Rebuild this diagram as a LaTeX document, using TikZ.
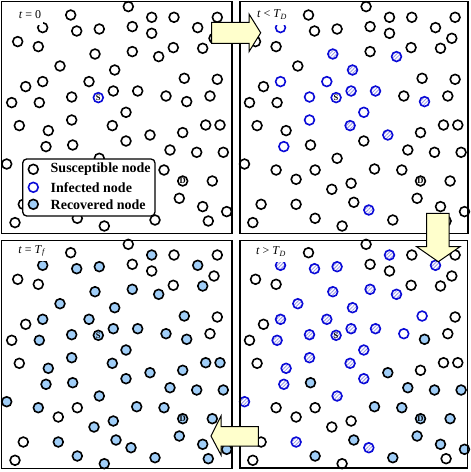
\documentclass[tikz,border=0pt]{standalone}
\usepackage{fontspec}
\setmainfont{Liberation Serif}
\usetikzlibrary{patterns.meta}
\definecolor{infblue}{RGB}{10,10,215}
\definecolor{recfill}{RGB}{160,206,248}
\definecolor{hatchc}{RGB}{150,150,232}
\definecolor{arrowfill}{RGB}{255,255,204}
\tikzset{
  nbase/.style={circle, inner sep=0pt, minimum size=9.8pt, line width=1.6pt,
    font=\bfseries\fontsize{8.5}{8.5}\selectfont},
  nsus/.style={nbase, draw=black, fill=white},
  ninf/.style={nbase, draw=infblue, fill=white},
  nhat/.style={nbase, draw=infblue, preaction={fill=white},
    pattern={Lines[angle=45, distance=2.5pt, line width=0.8pt]}, pattern color=hatchc},
  nrec/.style={nbase, draw=black, fill=recfill},
  frame/.style={draw=black, line width=1.4pt},
  lab/.style={fill=white, inner xsep=2pt, inner ysep=0pt, minimum height=20pt,
    font=\fontsize{12}{14}\selectfont},
  legtext/.style={anchor=west, inner sep=0pt, font=\bfseries\fontsize{14}{16}\selectfont},
  bigarrow/.style={draw=black, fill=arrowfill, line width=1pt, line join=miter}
}
\def\nodelist{126.8/4.8, 69.2/13.2, 150.2/15.5, 172.5/15.5, 215.8/15.5, 41.2/25.8, 75.2/29.2, 97.8/27.2, 130.8/24.8, 196.2/25.8, 150.2/31.5, 212.5/36.5, 16.2/39.8, 36.8/44.8, 171.8/45.8, 201.2/46.5, 93.5/52.2, 130.8/49.8, 157.2/54.8, 58.5/64.2, 113.2/68.2, 182.8/76.5, 215.8/77.5, 41.2/79.8, 87.5/79.8, 24.2/84.8, 111.8/89.2, 136.2/89.2, 96.8/95.8, 70.2/95.2, 10.2/100.8, 37.8/100.8, 164.5/94.2, 185.2/99.8, 208.5/94.2, 124.5/110.5, 70.2/118.2, 17.8/123.8, 46.8/128.8, 110.8/123.8, 204.2/123.2, 218.5/123.2, 181.2/130.8, 148.5/133.2, 124.5/139.2, 44.5/144.8, 71.2/143.2, 168.5/148.2, 195.2/150.5, 221.8/150.5, 97.8/156.5, 5.2/162.2, 36.8/168.2, 75.8/168.2, 135.2/167.2, 162.5/168.2, 56.8/177.5, 181.2/179.2, 210.8/179.2, 111.8/181.5, 92.5/187.5, 177.8/196.5, 21.8/202.5, 56.8/202.5, 114.5/200.5, 129.5/208.2, 201.2/204.8, 75.8/216.5, 13.5/220.8, 153.5/218.2, 206.8/219.2, 102.8/224.2, 225.2/209.8}
\def\assignstate#1#2#3{\foreach \k in {#3}{\expandafter\xdef\csname st#1-\k\endcsname{#2}}}
\assignstate{1}{ninf}{29}
\assignstate{2}{ninf}{6,24,25,29,30,36,37,46}
\assignstate{2}{nhat}{17,19,21,27,28,34,40,44,66}
\assignstate{4}{nhat}{3,6,7,8,10,17,18,19,20,21,24,25,27,28,29,30,32,36,37,39,40,45,46,51,52,64,66}
\assignstate{4}{ninf}{22,33}
\assignstate{4}{nrec}{34,44,47,48,49,50,55,56,58,59,62,65,67,68,70,73}
\assignstate{3}{nrec}{3,6,7,8,10,16,17,18,19,20,21,22,24,25,27,28,29,30,32,33,34,36,37,39,40,41,42,43,44,45,46,47,48,49,50,51,52,53,55,56,58,59,60,61,62,64,65,66,67,68,70,71,72,73}
\def\drawpanel#1#2#3{%
  \begin{scope}[shift={(#2,#3)}]
  \foreach \x/\y [count=\i] in \nodelist {%
    \ifcsname st#1-\i\endcsname \edef\thest{\csname st#1-\i\endcsname}\else\def\thest{nsus}\fi
    \node[\thest] (p#1n\i) at (\x,\y) {\ifnum\i=29 S\else\ifnum\i=58 D\fi\fi};
  }
  \end{scope}}
\begin{document}
\begin{tikzpicture}[x=1pt,y=-1pt]
\useasboundingbox (0,0) rectangle (471,472);
\fill[white] (0,0) rectangle (471,472);
% panels
\drawpanel{1}{1.5}{1.8}
\drawpanel{2}{239.3}{1.8}
\drawpanel{3}{1.5}{239.5}
\drawpanel{4}{239.3}{239.5}
\draw[frame] (1.5,1.7) rectangle (232,233.3);
\draw[frame] (240,1.7) rectangle (468,233.3);
\draw[frame] (1.3,240.7) rectangle (232,468.5);
\draw[frame] (240,240.7) rectangle (467.7,468);
% time labels
\node[lab] (lab1) at (30,14.5) {\textit{t} = 0};
\node[lab] (lab2) at (272,14.5) {\textit{t} < \textit{T}\textsubscript{\textit{D}}};
\node[lab] (lab3) at (32,251) {\textit{t} = \textit{T}\textsubscript{\textit{f}}};
\node[lab] (lab4) at (271,251.5) {\textit{t} > \textit{T}\textsubscript{\textit{D}}};
% legend
\node[draw=black, fill=white, rounded corners=4pt, line width=1.3pt, inner sep=0pt,
  minimum width=132.3pt, minimum height=57pt] (legend) at (88.85,187.5) {};
\node[nsus] (leg1c) at (33.3,169.3) {};
\node[ninf] (leg2c) at (33.3,187.3) {};
\node[nrec] (leg3c) at (33.3,204.3) {};
\node[legtext] (leg1t) at (50.5,169.3) {Susceptible node};
\node[legtext] (leg2t) at (50.5,187.3) {Infected node};
\node[legtext] (leg3t) at (50.5,204.3) {Recovered node};
% block arrows
\draw[bigarrow] (211.7,22.3) -- (249,22.3) -- (249,14) -- (260.7,32.8) -- (249,51.7) -- (249,43.3) -- (211.7,43.3) -- cycle;
\draw[bigarrow] (426.7,213.3) -- (449,213.3) -- (449,246.7) -- (460,246.7) -- (438.3,261.7) -- (416.7,246.7) -- (426.7,246.7) -- cycle;
\draw[bigarrow] (258.3,426.7) -- (221,426.7) -- (221,416) -- (211,436) -- (221,455) -- (221,446) -- (258.3,446) -- cycle;
\end{tikzpicture}
\end{document}
